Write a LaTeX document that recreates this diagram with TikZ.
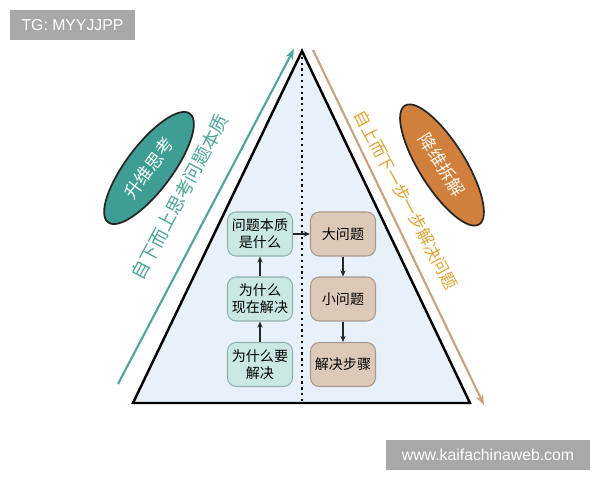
\documentclass[tikz,border=0pt]{standalone}
\usepackage{fontspec}
\setmainfont{Liberation Sans}
\newfontfamily\cjk{Noto Sans CJK SC}
\usetikzlibrary{shapes.geometric,arrows.meta}
\definecolor{tri}{HTML}{E8F1FA}
\definecolor{tealfill}{HTML}{3F9E94}
\definecolor{tealtxt}{HTML}{4FA597}
\definecolor{tealbox}{HTML}{C9E8E3}
\definecolor{tealbd}{HTML}{8FB3AD}
\definecolor{tanbox}{HTML}{DDC9B8}
\definecolor{tanbd}{HTML}{A8998C}
\definecolor{orfill}{HTML}{D0803C}
\definecolor{ortxt}{HTML}{E0A535}
\definecolor{orline}{HTML}{C9A27E}
\definecolor{wm}{HTML}{A8A8A8}
\begin{document}
\begin{tikzpicture}[x=0.02cm,y=-0.02cm,
  lbox/.style={draw=tealbd,fill=tealbox,rounded corners=5pt,line width=0.6pt,minimum width=65*0.02cm,minimum height=44*0.02cm,align=center,font=\cjk\fontsize{8}{9.5}\selectfont,inner sep=1pt},
  rbox/.style={lbox,draw=tanbd,fill=tanbox},
  conn/.style={-{Stealth[length=3.5pt,width=3pt]},line width=0.8pt,black!85},
  wmbox/.style={fill=wm,text=white,font=\fontsize{9}{10}\selectfont,inner sep=0pt,minimum height=30*0.02cm}]
\useasboundingbox[fill=white] (0,0) rectangle (600,480);
% watermarks
\node[wmbox,minimum width=125*0.02cm] (tg) at (72.5,25) {TG: MYYJJPP};
\node[wmbox,minimum width=204*0.02cm] (web) at (488,455) {www.kaifachinaweb.com};
% triangle
\coordinate (apex) at (302,51);
\coordinate (bl) at (133,403);
\coordinate (br) at (470,403);
\coordinate (bm) at (302,403);
\draw[fill=tri,line width=1.4pt,line join=miter] (apex) -- (bl) -- (br) -- cycle;
\draw[dotted,line width=1.3pt] (apex) -- (bm);
% side arrows
\coordinate (ta) at (118,384);
\coordinate (tb) at (294,49);
\draw[tealtxt,line width=1.2pt,-{Stealth[length=6pt,width=4.5pt]}] (ta) -- (tb);
\coordinate (oa) at (313,50);
\coordinate (ob) at (484,405);
\draw[orline,line width=1.2pt,-{Stealth[length=6pt,width=4.5pt]}] (oa) -- (ob);
% side texts
\node[rotate=62,text=tealtxt,font=\cjk\fontsize{10.5}{12}\selectfont] (tt) at (180,197) {自下而上思考问题本质};
\node[rotate=-62,text=ortxt,font=\cjk\fontsize{9.5}{11}\selectfont] (ot) at (406,200) {自上而下一步一步解决问题};
% ellipses
\node[ellipse,draw=black!85,line width=1pt,fill=tealfill,minimum width=136*0.02cm,minimum height=46*0.02cm,rotate=53,text=white,font=\cjk\fontsize{10}{12}\selectfont] (e1) at (149,168) {升维思考};
\node[ellipse,draw=black!85,line width=1pt,fill=orfill,minimum width=140*0.02cm,minimum height=46*0.02cm,rotate=-58,text=white!92!orange,font=\cjk\fontsize{10}{12}\selectfont] (e2) at (442,165) {降维拆解};
% boxes
\node[lbox] (l1) at (260,234) {问题本质\\是什么};
\node[lbox] (l2) at (260,299) {为什么\\现在解决};
\node[lbox] (l3) at (260,364.5) {为什么要\\解决};
\node[rbox] (r1) at (343,234) {大问题};
\node[rbox] (r2) at (343,299) {小问题};
\node[rbox] (r3) at (343,364.5) {解决步骤};
\draw[conn] (l3) -- (l2);
\draw[conn] (l2) -- (l1);
\draw[conn] (l1) -- (r1);
\draw[conn] (r1) -- (r2);
\draw[conn] (r2) -- (r3);
\end{tikzpicture}
\end{document}
